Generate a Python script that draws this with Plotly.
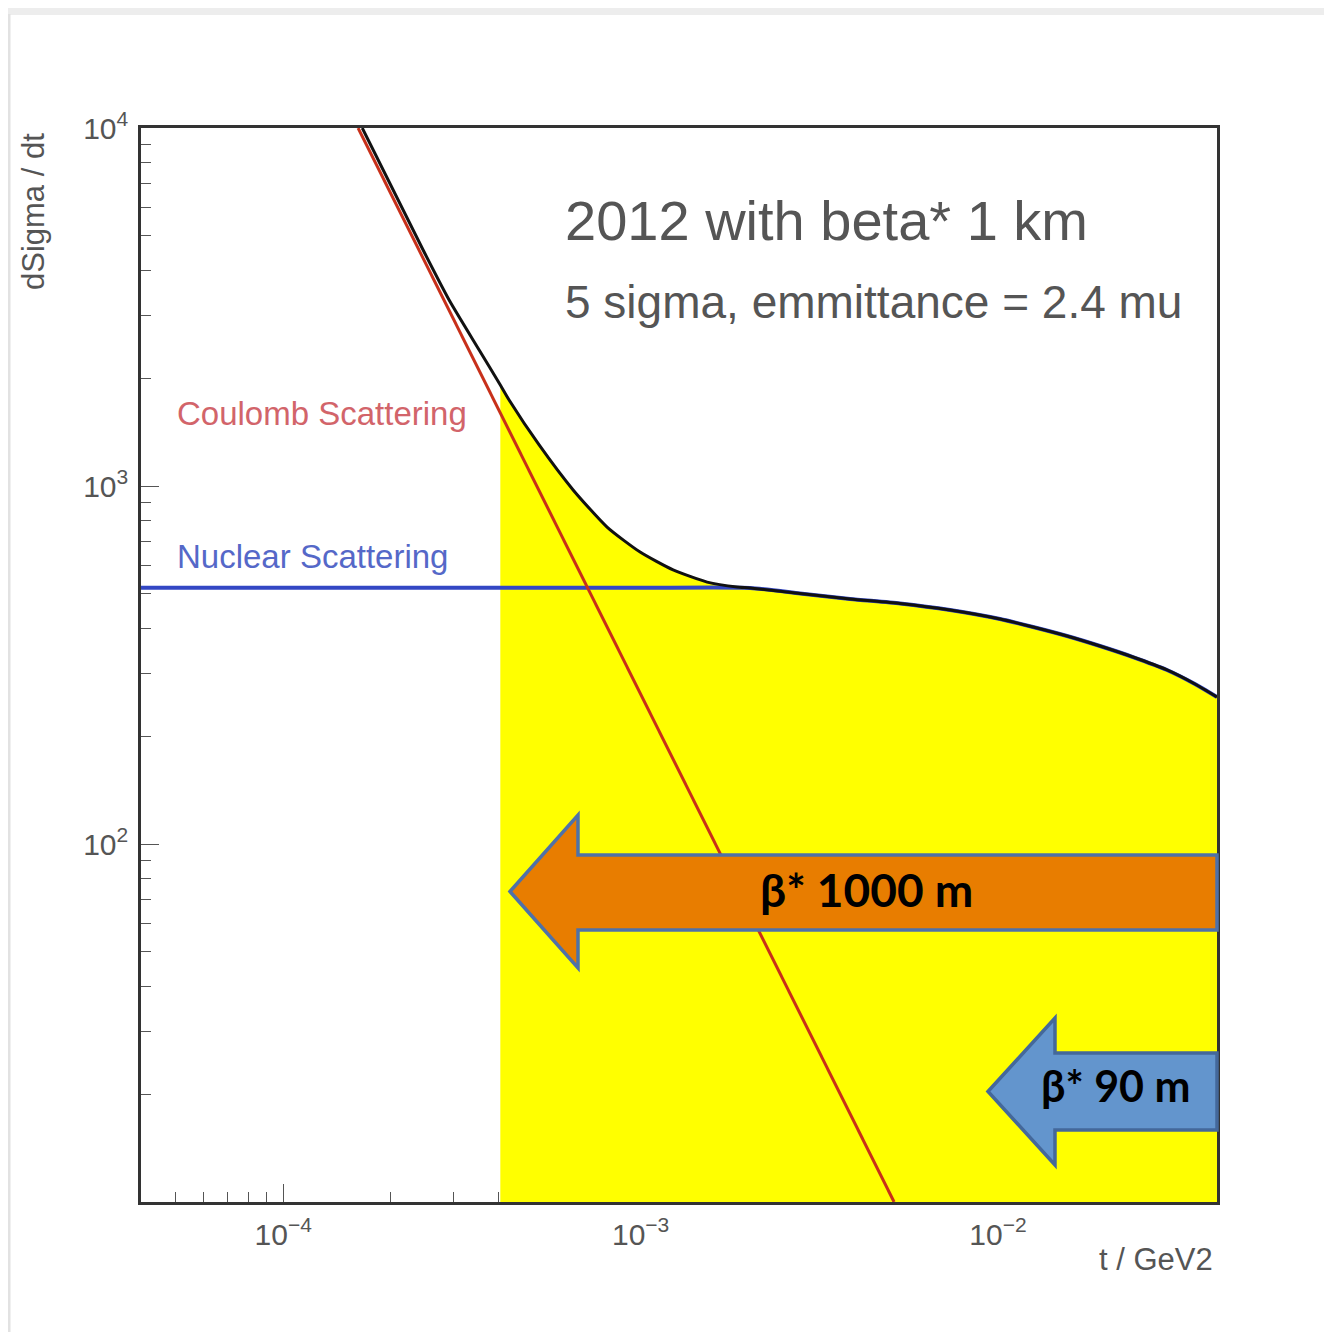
import math
import plotly.graph_objects as go

# ---------------- data ----------------
# Coulomb scattering (straight line on log-log axes)
coulomb_t = [1.62e-4, 5.12e-3]
coulomb_sigma = [1.0e4, 10.0]

# Nuclear scattering
nuclear_t = [4.0e-5, 1.0e-4, 3.0e-4, 1.0e-3, 2.024e-3, 2.793e-3, 3.855e-3, 5.32e-3,
             7.341e-3, 1.013e-2, 1.253e-2, 1.56e-2, 1.929e-2, 2.385e-2, 2.97e-2,
             3.556e-2, 4.1e-2]
nuclear_sigma = [520, 520, 520, 519.5, 519, 501, 483.5, 469.7,
                 450.4, 425.1, 403.8, 381.1, 357.3, 332.9, 306.3,
                 279.9, 257.4]

# Total (Coulomb + Nuclear + interference)
total_t = [1.664e-4, 2.463e-4, 2.912e-4, 3.534e-4, 4.05e-4, 4.286e-4, 5.201e-4, 6.475e-4,
           8.056e-4, 9.968e-4, 1.233e-3, 1.535e-3, 1.862e-3, 2.024e-3, 2.793e-3,
           3.855e-3, 5.32e-3, 7.341e-3, 1.013e-2, 1.253e-2, 1.56e-2, 1.929e-2,
           2.385e-2, 2.97e-2, 3.556e-2, 4.1e-2]
total_sigma = [1.0e4, 4562, 3308, 2399, 1915, 1739, 1302, 975,
               768, 654, 583, 539, 522, 519, 501,
               483.5, 469.7, 450.4, 425.1, 403.8, 381.1, 357.3,
               332.9, 306.3, 279.9, 257.4]

# accessible region (yellow) starts here
fill_start_t = 4.05e-4

x_range_t = [4.0e-5, 4.1e-2]
y_range_sigma = [10, 1.0e4]

x_tickvals = [1e-4, 1e-3, 1e-2]
x_ticktext = ["10<sup>\u22124</sup>", "10<sup>\u22123</sup>", "10<sup>\u22122</sup>"]
y_tickvals = [1e2, 1e3, 1e4]
y_ticktext = ["10<sup>2</sup>", "10<sup>3</sup>", "10<sup>4</sup>"]

x_minor = [m * 10.0 ** e for e in range(-5, -1) for m in range(2, 10)]
y_minor = [m * 10.0 ** e for e in range(1, 4) for m in range(2, 10)]

title_1 = "2012 with beta* 1 km"
title_2 = "5 sigma, emmittance = 2.4 mu"
coulomb_label = "Coulomb Scattering"
nuclear_label = "Nuclear Scattering"
y_title = "dSigma / dt"
x_title = "t / GeV2"
arrow1_label = "\u03b2* 1000 m"
arrow2_label = "\u03b2* 90 m"

# ---------------- layout geometry (page pixels, body margin compensated) ----------------
W, H = 1332, 1332
OFF = 8
L, R, T, B = 141, 1217, 128, 1202   # plot area on the page


def P(px, py):
    return (px - L) / (R - L), (B - py) / (B - T)


fig = go.Figure()

# yellow fill under the total curve, from fill_start_t to the right edge
ft = [t for t in total_t if t >= fill_start_t]
fs = [s for t, s in zip(total_t, total_sigma) if t >= fill_start_t]
fig.add_trace(go.Scatter(
    x=[ft[0], ft[-1]], y=[y_range_sigma[0], y_range_sigma[0]],
    mode="lines", line=dict(width=0, color="rgba(0,0,0,0)"),
    hoverinfo="skip", showlegend=False))
fig.add_trace(go.Scatter(
    x=ft, y=fs, mode="lines", fill="tonexty", fillcolor="#FFFF00",
    line=dict(width=0, color="rgba(0,0,0,0)", shape="spline", smoothing=0.6),
    hoverinfo="skip", showlegend=False))

fig.add_trace(go.Scatter(x=nuclear_t, y=nuclear_sigma, mode="lines",
                         line=dict(color="#3347C4", width=4, shape="spline", smoothing=0.6),
                         showlegend=False))
fig.add_trace(go.Scatter(x=total_t, y=total_sigma, mode="lines",
                         line=dict(color="#111111", width=3, shape="spline", smoothing=0.6),
                         showlegend=False))
fig.add_trace(go.Scatter(x=coulomb_t, y=coulomb_sigma, mode="lines",
                         line=dict(color="#C8301A", width=3), showlegend=False))

axis_common = dict(
    type="log", showgrid=False, zeroline=False,
    showline=True, linecolor="#333333", linewidth=2.5, mirror=True,
    ticks="inside", ticklen=18, tickwidth=1.2, tickcolor="#555555",
    tickfont=dict(family="Liberation Sans, Arial, sans-serif", size=30, color="#555555"),
    layer="below traces",
)

fig.update_xaxes(
    range=[math.log10(x_range_t[0]), math.log10(x_range_t[1])],
    tickmode="array", tickvals=x_tickvals, ticktext=x_ticktext,
    minor=dict(tickmode="array", tickvals=x_minor, ticks="inside", ticklen=10,
               tickwidth=1.2, tickcolor="#555555", showgrid=False),
    ticklabelstandoff=4,
    **axis_common)
fig.update_yaxes(
    range=[math.log10(y_range_sigma[0]), math.log10(y_range_sigma[1])],
    tickmode="array", tickvals=y_tickvals, ticktext=y_ticktext,
    minor=dict(tickmode="array", tickvals=y_minor, ticks="inside", ticklen=10,
               tickwidth=1.2, tickcolor="#555555", showgrid=False),
    ticklabelstandoff=4,
    **axis_common)

shapes = []
# light frame of the screenshot
shapes.append(dict(type="rect", xref="paper", yref="paper",
                   x0=P(0, 0)[0], x1=P(W, 0)[0], y0=P(0, OFF)[1], y1=P(0, OFF + 7)[1],
                   fillcolor="#EDEDED", line=dict(width=0), layer="below"))
shapes.append(dict(type="line", xref="paper", yref="paper",
                   x0=P(OFF + 1, 0)[0], x1=P(OFF + 1, 0)[0], y0=P(0, 14)[1], y1=P(0, H)[1],
                   line=dict(color="#E2E2E2", width=3), layer="below"))


def arrow(tip_x, head_x, right_x, head_top, body_top, body_bot, head_bot):
    mid = (head_top + head_bot) / 2
    pts = [(tip_x, mid), (head_x, head_top), (head_x, body_top), (right_x, body_top),
           (right_x, body_bot), (head_x, body_bot), (head_x, head_bot)]
    return "M " + " L ".join("%.5f,%.5f" % P(px, py) for px, py in pts) + " Z"


shapes.append(dict(type="path", xref="paper", yref="paper",
                   path=arrow(510, 578, 1217, 815, 855, 930, 968),
                   fillcolor="#E87D00", line=dict(color="#4F71A8", width=3.5), layer="above"))
shapes.append(dict(type="path", xref="paper", yref="paper",
                   path=arrow(988, 1055, 1217, 1018, 1053, 1130, 1165),
                   fillcolor="#6395CD", line=dict(color="#44689A", width=3.5), layer="above"))

ann = []
txt_font = "Liberation Sans, Arial, sans-serif"


def add_text(text, px, py, size, color, xanchor="left", family=txt_font, angle=0):
    x, y = P(px, py)
    ann.append(dict(text=text, x=x, y=y, xref="paper", yref="paper", xanchor=xanchor,
                    yanchor="middle", showarrow=False, textangle=angle,
                    font=dict(family=family, size=size, color=color)))


add_text(title_1, 563, 220, 56, "#555555")
add_text(title_2, 563, 302, 46, "#555555")
add_text(coulomb_label, 175, 413, 33, "#D2646A")
add_text(nuclear_label, 175, 556, 33, "#5568C8")
add_text(y_title, 33, 212, 31, "#555555", xanchor="center", angle=-90)
add_text(x_title, 1215, 1260, 31, "#555555", xanchor="right")
add_text("<b>" + arrow1_label + "</b>", 866, 889, 46, "#000000", xanchor="center",
         family="Lato, Open Sans, sans-serif")
add_text("<b>" + arrow2_label + "</b>", 1116, 1085, 43, "#000000", xanchor="center",
         family="Lato, Open Sans, sans-serif")

fig.update_layout(
    width=W, height=H, autosize=False,
    margin=dict(l=L - OFF, r=W - (R - OFF), t=T - OFF, b=H - (B - OFF), pad=0),
    paper_bgcolor="#FFFFFF", plot_bgcolor="#FFFFFF",
    shapes=shapes, annotations=ann, showlegend=False,
)

fig.write_html("out.html")
